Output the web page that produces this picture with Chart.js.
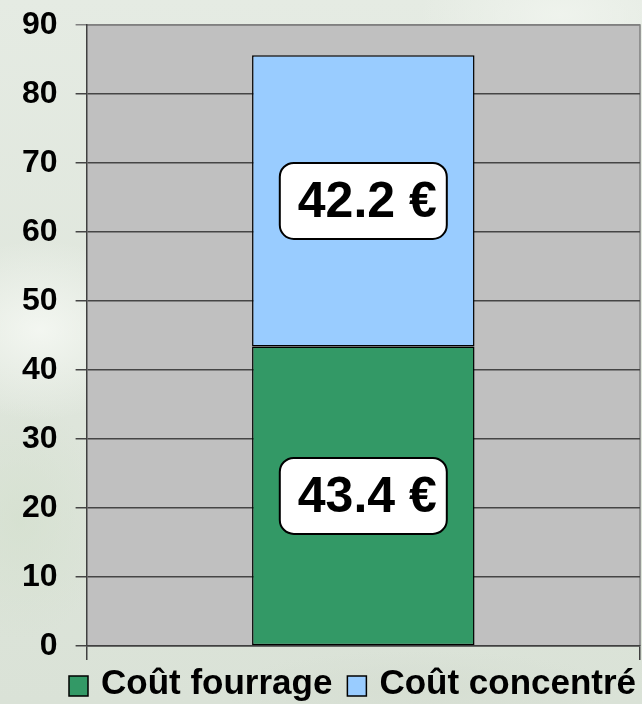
<!DOCTYPE html>
<html>
<head>
<meta charset="utf-8">
<script src="https://cdn.jsdelivr.net/npm/chart.js@4.4.1/dist/chart.umd.min.js"></script>
<style>
  html, body { margin: 0; padding: 0; }
  body {
    width: 642px; height: 704px; overflow: hidden;
    background:
      radial-gradient(ellipse 120px 90px at 40px 330px, rgba(245,248,243,0.9), rgba(245,248,243,0) 100%),
      radial-gradient(ellipse 140px 70px at 560px 15px, rgba(240,244,238,0.9), rgba(240,244,238,0) 100%),
      radial-gradient(ellipse 90px 120px at 20px 520px, rgba(212,224,206,0.7), rgba(212,224,206,0) 100%),
      radial-gradient(ellipse 200px 40px at 420px 690px, rgba(214,222,210,0.9), rgba(214,222,210,0) 100%),
      linear-gradient(180deg, #e5ebe3 0%, #dfe6dc 50%, #dae2d7 100%);
  }
</style>
</head>
<body>
<canvas id="graphCout" width="642" height="704"></canvas>
<script>
// Données du graphique
const categories = [''];
const coutFourrage = [43.4];
const coutConcentre = [42.2];
const ticksY = [0, 10, 20, 30, 40, 50, 60, 70, 80, 90];

// Fond gris de la zone de tracé + bordure
const fondZone = {
    id: 'fondZone',
    beforeDraw(chart) {
        const { ctx, chartArea: a } = chart;
        ctx.save();
        ctx.fillStyle = '#c0c0c0';
        ctx.fillRect(a.left, a.top, a.right - a.left, a.bottom - a.top);
        ctx.strokeStyle = '#808080';
        ctx.lineWidth = 1.5;
        ctx.beginPath();
        ctx.moveTo(a.left, a.top);
        ctx.lineTo(a.right, a.top);
        ctx.lineTo(a.right, a.bottom);
        ctx.stroke();
        ctx.restore();
    }
};

// Étiquettes de valeur dans des cadres blancs arrondis
const etiquettes = {
    id: 'etiquettes',
    afterDatasetsDraw(chart) {
        const ctx = chart.ctx;
        chart.data.datasets.forEach((ds, i) => {
            const meta = chart.getDatasetMeta(i);
            meta.data.forEach((bar, j) => {
                const cy = (bar.y + bar.base) / 2;
                const w = 167, h = 76;
                ctx.save();
                ctx.beginPath();
                ctx.roundRect(bar.x - w / 2, cy - h / 2, w, h, 14);
                ctx.fillStyle = '#ffffff';
                ctx.fill();
                ctx.lineWidth = 2;
                ctx.strokeStyle = '#000000';
                ctx.stroke();
                ctx.font = 'bold 50px "Liberation Sans", Arial, sans-serif';
                ctx.fillStyle = '#000000';
                ctx.textAlign = 'center';
                ctx.textBaseline = 'middle';
                ctx.fillText(ds.data[j].toFixed(1) + ' €', bar.x + 4, cy + 2);
                ctx.restore();
            });
        });
    }
};

// Légende dessinée sous le graphique
const legendeBas = {
    id: 'legendeBas',
    afterDraw(chart) {
        const ctx = chart.ctx;
        ctx.save();
        ctx.font = 'bold 35px "Liberation Sans", Arial, sans-serif';
        ctx.textBaseline = 'alphabetic';
        let x = 69;
        chart.data.datasets.forEach(ds => {
            ctx.fillStyle = ds.backgroundColor;
            ctx.fillRect(x, 676, 19, 20);
            ctx.strokeStyle = '#000000';
            ctx.lineWidth = 1.5;
            ctx.strokeRect(x, 676, 19, 20);
            x += 19 + 13;
            ctx.fillStyle = '#000000';
            ctx.fillText(ds.label, x, 694);
            x += ctx.measureText(ds.label).width + 15;
        });
        ctx.restore();
    }
};

const ctxCout = document.getElementById('graphCout').getContext('2d');
const graphCout = new Chart(ctxCout, {
    type: 'bar',
    data: {
        labels: categories,
        datasets: [{
            label: 'Coût fourrage',
            data: coutFourrage,
            backgroundColor: '#339966',
            borderColor: '#000000',
            borderWidth: 1.5,
            borderSkipped: false
        }, {
            label: 'Coût concentré',
            data: coutConcentre,
            backgroundColor: '#99ccff',
            borderColor: '#000000',
            borderWidth: 1.5,
            borderSkipped: false
        }]
    },
    options: {
        responsive: false,
        animation: false,
        barPercentage: 0.402,
        categoryPercentage: 1,
        layout: {
            padding: { left: 4, right: 2, top: 25, bottom: 44 }
        },
        plugins: {
            legend: { display: false },
            tooltip: { enabled: false }
        },
        scales: {
            x: {
                stacked: true,
                ticks: { display: false },
                grid: {
                    display: true,
                    drawOnChartArea: false,
                    tickLength: 14,
                    color: '#404040',
                    lineWidth: 1.5
                },
                border: { display: true, color: '#404040', width: 1.5 }
            },
            y: {
                stacked: true,
                min: 0,
                max: 90,
                afterBuildTicks(scale) {
                    scale.ticks = ticksY.map(v => ({ value: v }));
                },
                ticks: {
                    color: '#000000',
                    padding: 18,
                    font: { family: '"Liberation Sans", Arial, sans-serif', size: 32, weight: 'bold', lineHeight: 0.4 }
                },
                grid: {
                    tickLength: 11,
                    color: ctx => ctx.tick && ctx.tick.value === 90 ? '#808080' : '#454545',
                    lineWidth: 1.5
                },
                border: { display: true, color: '#404040', width: 1.5 }
            }
        }
    },
    plugins: [fondZone, etiquettes, legendeBas]
});
</script>
</body>
</html>
